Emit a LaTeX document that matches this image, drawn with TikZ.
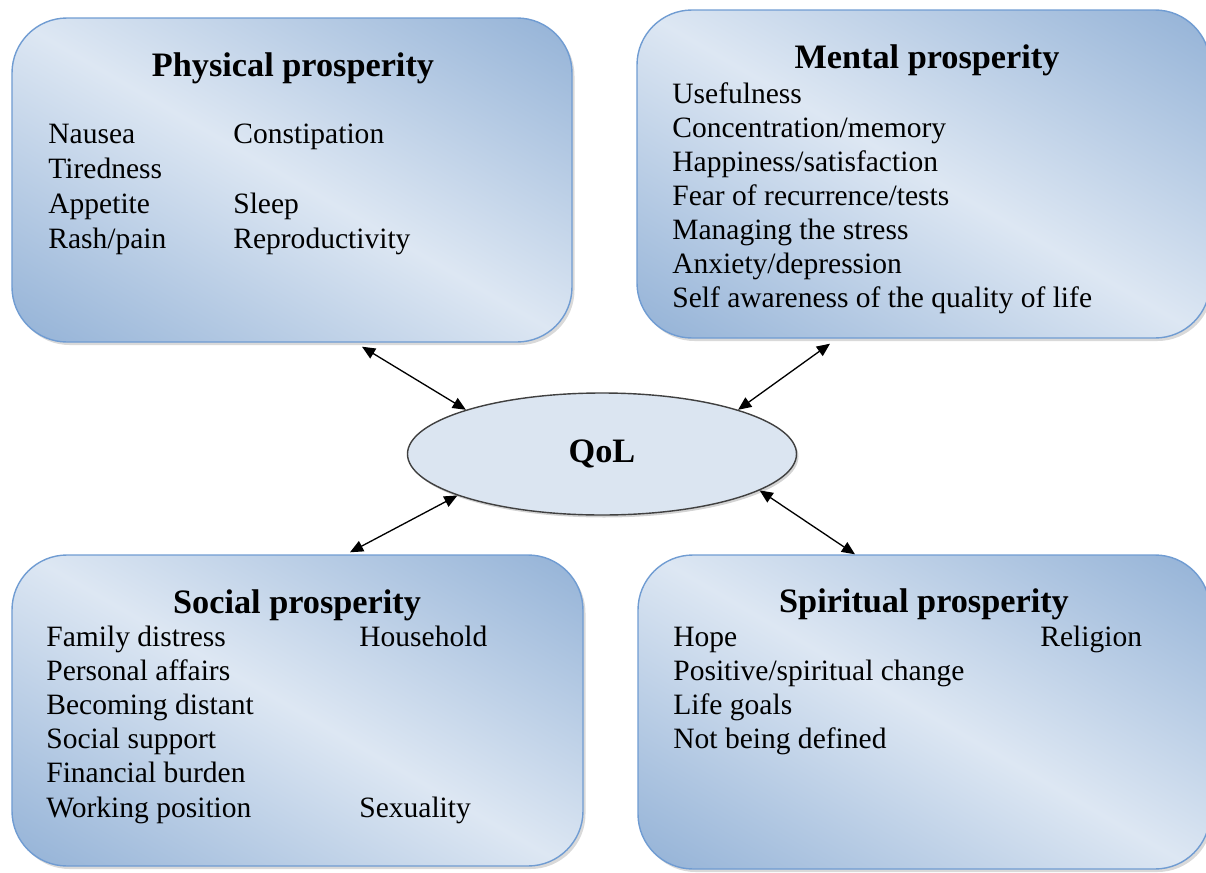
\documentclass[tikz,border=0pt]{standalone}
\usepackage{fontspec}
\setmainfont{Liberation Serif}
\usetikzlibrary{arrows.meta,shapes.geometric,shadows,calc}

\definecolor{boxdark}{RGB}{146,177,214}
\definecolor{boxlight}{RGB}{221,231,243}
\definecolor{boxline}{RGB}{112,156,210}
\definecolor{qolfill}{RGB}{219,229,241}

\pgfdeclareverticalshading{boxshade}{100bp}{color(0bp)=(boxdark); color(15bp)=(boxdark); color(50bp)=(boxlight); color(85bp)=(boxdark); color(100bp)=(boxdark)}

\begin{document}
\begin{tikzpicture}[
    area/.style={rectangle, rounded corners=1.1cm, draw=boxline, line width=0.8pt,
      shade, shading=boxshade, shading angle=-30,
      drop shadow={opacity=0.3, shadow xshift=0.05cm, shadow yshift=-0.06cm}},
    qol/.style={ellipse, draw=black!75, line width=0.8pt, fill=qolfill,
      minimum width=7.78cm, minimum height=2.44cm, inner sep=0pt,
      font=\bfseries\fontsize{19.5}{22}\selectfont,
      drop shadow={opacity=0.35, shadow xshift=0.04cm, shadow yshift=-0.05cm}},
    head/.style={font=\bfseries\fontsize{19.5}{22}\selectfont, anchor=base, inner sep=0pt},
    item/.style={font=\fontsize{16.8}{19}\selectfont, anchor=base west, inner sep=0pt},
    link/.style={{Triangle[length=7.5pt,width=6.5pt]}-{Triangle[length=7.5pt,width=6.5pt]}, line width=0.75pt}
  ]
  % \helpgrid{24}{18}
  \useasboundingbox (0,0) rectangle (24.12,-17.46);

  \node[area, minimum width=11.2cm, minimum height=6.48cm] (phys) at (5.84,-3.60) {};
  \node[area, minimum width=11.46cm, minimum height=6.56cm] (ment) at (18.47,-3.48) {};
  \node[area, minimum width=11.42cm, minimum height=6.22cm] (soc) at (5.95,-14.21) {};
  \node[area, minimum width=11.44cm, minimum height=6.28cm] (spir) at (18.48,-14.24) {};

  \node[qol] (qol) at (12.04,-9.08) {QoL};

  % physical
  \node[head] (phys-t) at (5.86,-1.52) {Physical prosperity};
  \foreach \t [count=\i] in {Nausea,Tiredness,Appetite,Rash/pain}
    \node[item] (phys-a\i) at (0.96,{-2.16-0.70*\i}) {\t};
  \node[item] (phys-b1) at (4.66,-2.86) {Constipation};
  \node[item] (phys-b3) at (4.66,-4.26) {Sleep};
  \node[item] (phys-b4) at (4.66,-4.96) {Reproductivity};

  % mental
  \node[head] (ment-t) at (18.54,-1.36) {Mental prosperity};
  \foreach \t [count=\i] in {Usefulness,Concentration/memory,Happiness/satisfaction,
      Fear of recurrence/tests,Managing the stress,Anxiety/depression,
      Self awareness of the quality of life}
    \node[item] (ment-a\i) at (13.44,{-1.38-0.68*\i}) {\t};

  % social
  \node[head] (soc-t) at (5.94,-12.26) {Social prosperity};
  \foreach \t [count=\i] in {Family distress,Personal affairs,Becoming distant,
      Social support,Financial burden,Working position}
    \node[item] (soc-a\i) at (0.92,{-12.236-0.684*\i}) {\t};
  \node[item] (soc-b1) at (7.18,-12.92) {Household};
  \node[item] (soc-b6) at (7.18,-16.34) {Sexuality};

  % spiritual
  \node[head] (spir-t) at (18.48,-12.24) {Spiritual prosperity};
  \foreach \t [count=\i] in {Hope,Positive/spiritual change,Life goals,Not being defined}
    \node[item] (spir-a\i) at (13.46,{-12.236-0.684*\i}) {\t};
  \node[item] (spir-b1) at (20.8,-12.92) {Religion};

  \draw[link] ($(phys.south)+(1.4,-0.08)$) -- (qol.162);
  \draw[link] ($(ment.south)+(-1.87,-0.1)$) -- (qol.18);
  \draw[link] ($(soc.north)+(1.05,0.04)$) -- (qol.196);
  \draw[link] ($(spir.north)+(-1.38,0)$) -- (qol.-13);

\end{tikzpicture}
\end{document}
